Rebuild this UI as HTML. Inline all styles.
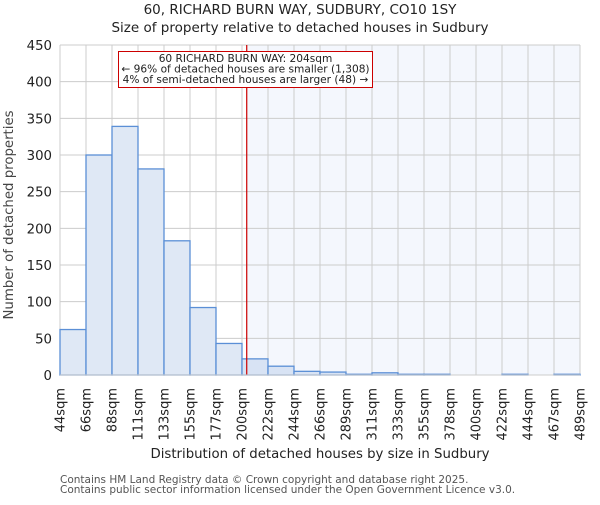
<!DOCTYPE html>
<html><head><meta charset="utf-8"><style>
body{margin:0;background:#fff}
svg text{font-family:"DejaVu Sans","Liberation Sans",sans-serif;fill:#222}
</style></head><body>
<svg id="c" width="600" height="500" xmlns="http://www.w3.org/2000/svg">
<text x="300" y="14" font-size="13.5" text-anchor="middle">60, RICHARD BURN WAY, SUDBURY, CO10 1SY</text>
<text x="300" y="32" font-size="13.5" text-anchor="middle">Size of property relative to detached houses in Sudbury</text>
<g id="plot"></g>
<text transform="translate(13,215) rotate(-90)" font-size="13.3" text-anchor="middle" style="fill:#444">Number of detached properties</text>
<text x="320" y="458" font-size="13.3" text-anchor="middle">Distribution of detached houses by size in Sudbury</text>
<text x="60" y="483" font-size="10.5" style="fill:#555">Contains HM Land Registry data © Crown copyright and database right 2025.</text>
<text x="60" y="493" font-size="10.5" style="fill:#555">Contains public sector information licensed under the Open Government Licence v3.0.</text>
</svg>
<script>
const binLabels=["44sqm","66sqm","88sqm","111sqm","133sqm","155sqm","177sqm","200sqm","222sqm","244sqm","266sqm","289sqm","311sqm","333sqm","355sqm","378sqm","400sqm","422sqm","444sqm","467sqm","489sqm"];
const binEdges=[44,66,88,111,133,155,177,200,222,244,266,289,311,333,355,378,400,422,444,467,489];
const counts=[62,300,339,281,183,92,43,22,12,5,4,1,3,1,1,0,0,1,0,1];
const yTicks=[0,50,100,150,200,250,300,350,400,450];
const propertySize=204;
const NS="http://www.w3.org/2000/svg";
const L=60,R=580,T=45,B=375,yMax=450;
const nb=counts.length,bw=(R-L)/nb;
const xi=i=>L+i*bw;
const xv=v=>{for(let i=0;i<binEdges.length-1;i++){if(v<=binEdges[i+1])return xi(i)+(v-binEdges[i])/(binEdges[i+1]-binEdges[i])*bw;}return R;};
const y=v=>B-v/yMax*(B-T);
const g=document.getElementById('plot');
function mk(t,a){const e=document.createElementNS(NS,t);for(const k in a)e.setAttribute(k,a[k]);g.appendChild(e);return e;}
const px=xv(propertySize);
let e=mk('rect',{x:px,y:T,width:R-px,height:B-T,fill:'#f4f7fd'});


yTicks.forEach(t=>{
 let l=mk('line',{x1:L,x2:R,y1:y(t),y2:y(t),stroke:'#ccc','stroke-width':1});
 
 
 let tx=mk('text',{x:L-8,y:y(t)+5,'font-size':13.3,'text-anchor':'end'});tx.textContent=t;
 
 
});
binLabels.forEach((s,i)=>{
 let l=mk('line',{x1:xi(i),x2:xi(i),y1:T,y2:B,stroke:'#ccc','stroke-width':1});
 
 
 let tx=mk('text',{transform:`translate(${xi(i)+4.5},388) rotate(-90)`,'font-size':13,'text-anchor':'end'});tx.textContent=s;
 
 
});
counts.forEach((c,i)=>{
 if(c<=0)return;
 let r=mk('rect',{x:xi(i),y:y(c),width:bw,height:B-y(c),fill:xi(i)>=px-bw/2?'#d8e3f4':'#dfe8f5',stroke:'#5b8fd6','stroke-width':1.3});
 
 
});
e=mk('line',{x1:px,x2:px,y1:T,y2:B,stroke:'#c00','stroke-width':1.2});


e=mk('line',{x1:L,x2:R,y1:B,y2:B,stroke:'#ccc','stroke-width':1});


e=mk('rect',{x:118.5,y:51.5,width:254,height:36,fill:'#fff',stroke:'#c00','stroke-width':1});


["60 RICHARD BURN WAY: 204sqm","← 96% of detached houses are smaller (1,308)","4% of semi-detached houses are larger (48) →"].forEach((s,i)=>{
 let tx=mk('text',{x:245.5,y:62+i*10.5,'font-size':10.6,'text-anchor':'middle'});tx.textContent=s;
 
 
});
</script>
</body></html>
